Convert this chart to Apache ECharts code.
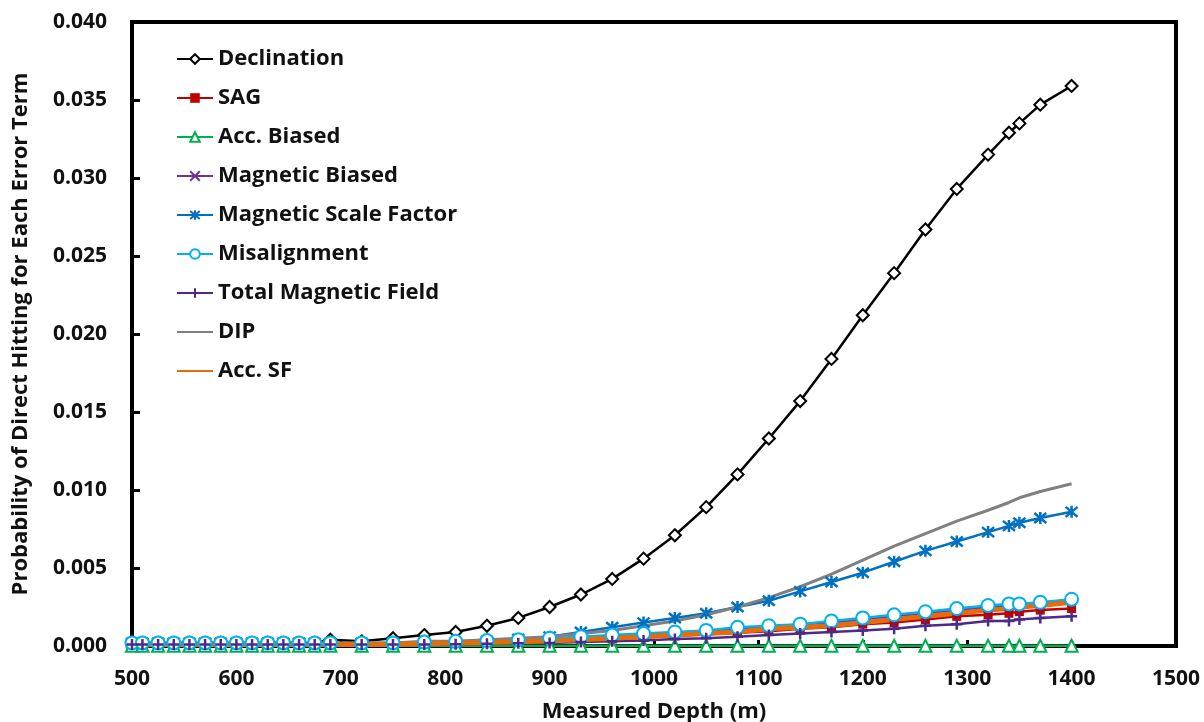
<!DOCTYPE html>
<html>
<head>
<meta charset="utf-8">
<script src="https://cdn.jsdelivr.net/npm/echarts@6/dist/echarts.min.js"></script>
<style>
  html, body { margin: 0; padding: 0; background: #fff; }
  #chart { width: 1204px; height: 722px; }
</style>
</head>
<body>
<div id="chart"></div>
<script>
// Measured depth stations (m)
const depths = [500, 510, 525, 540, 555, 570, 585, 600, 615, 630, 645, 660, 675, 690,
  720, 750, 780, 810, 840, 870, 900, 930, 960, 990, 1020, 1050, 1080, 1110, 1140,
  1170, 1200, 1230, 1260, 1290, 1320, 1340, 1350, 1370, 1400];

// Probability of direct hitting for each error term
const declination = [0.0002, 0.0002, 0.0002, 0.0002, 0.0002, 0.0002, 0.0002, 0.0002, 0.0002, 0.0002, 0.0002, 0.0002, 0.0002, 0.0004,
  0.0003, 0.0005, 0.0007, 0.0009, 0.0013, 0.0018, 0.0025, 0.0033, 0.0043, 0.0056, 0.0071, 0.0089, 0.0110, 0.0133, 0.0157,
  0.0184, 0.0212, 0.0239, 0.0267, 0.0293, 0.0315, 0.0329, 0.0335, 0.0347, 0.0359];
const sag = [0.0001, 0.0001, 0.0001, 0.0001, 0.0001, 0.0001, 0.0001, 0.0001, 0.0001, 0.0001, 0.0001, 0.0001, 0.0001, 0.0001,
  0.0001, 0.0001, 0.00012, 0.00015, 0.0002, 0.00025, 0.0003, 0.0004, 0.00045, 0.00055, 0.00065, 0.00075, 0.00085, 0.00095, 0.0011,
  0.0012, 0.0014, 0.0015, 0.0017, 0.0019, 0.0020, 0.0021, 0.0022, 0.0023, 0.0024];
const accBiased = [0.00002, 0.00002, 0.00002, 0.00002, 0.00002, 0.00002, 0.00002, 0.00002, 0.00002, 0.00002, 0.00002, 0.00002, 0.00002, 0.00002,
  0.00002, 0.00002, 0.00002, 0.00002, 0.00002, 0.00002, 0.00002, 0.00002, 0.00002, 0.00002, 0.00002, 0.00002, 0.00002, 0.00002, 0.00002,
  0.00002, 0.00002, 0.00002, 0.00002, 0.00002, 0.00002, 0.00002, 0.00002, 0.00002, 0.00002];
const magneticBiased = [0.00015, 0.00015, 0.00015, 0.00015, 0.00015, 0.00015, 0.00015, 0.00015, 0.00015, 0.00015, 0.00015, 0.00015, 0.00015, 0.00015,
  0.00015, 0.00015, 0.0002, 0.00025, 0.0003, 0.00035, 0.0004, 0.0005, 0.0006, 0.0007, 0.0008, 0.0009, 0.0011, 0.0012, 0.0013,
  0.0015, 0.0017, 0.0019, 0.0021, 0.0023, 0.0025, 0.0026, 0.0026, 0.0027, 0.0029];
const magneticScaleFactor = [0.0002, 0.0002, 0.0002, 0.0002, 0.0002, 0.0002, 0.0002, 0.0002, 0.0002, 0.0002, 0.0002, 0.0002, 0.0002, 0.0002,
  0.0002, 0.0002, 0.0002, 0.0002, 0.0003, 0.00045, 0.0006, 0.0009, 0.0012, 0.0015, 0.0018, 0.0021, 0.0025, 0.0029, 0.0035,
  0.0041, 0.0047, 0.0054, 0.0061, 0.0067, 0.0073, 0.0077, 0.0079, 0.0082, 0.0086];
const misalignment = [0.0002, 0.0002, 0.0002, 0.0002, 0.0002, 0.0002, 0.0002, 0.0002, 0.0002, 0.0002, 0.0002, 0.0002, 0.0002, 0.0002,
  0.0002, 0.0002, 0.00025, 0.0003, 0.00035, 0.0004, 0.0005, 0.0006, 0.0007, 0.0008, 0.0009, 0.0010, 0.0012, 0.0013, 0.0014,
  0.0016, 0.0018, 0.0020, 0.0022, 0.0024, 0.0026, 0.0027, 0.0027, 0.0028, 0.0030];
const totalMagneticField = [0.0001, 0.0001, 0.0001, 0.0001, 0.0001, 0.0001, 0.0001, 0.0001, 0.0001, 0.0001, 0.0001, 0.0001, 0.0001, 0.0001,
  0.0001, 0.0001, 0.0001, 0.00012, 0.00015, 0.00018, 0.0002, 0.00025, 0.0003, 0.00035, 0.00045, 0.0005, 0.0006, 0.0007, 0.0008,
  0.0009, 0.0010, 0.0011, 0.0013, 0.0014, 0.0016, 0.0016, 0.0017, 0.0018, 0.0019];
const dip = [0.0002, 0.0002, 0.0002, 0.0002, 0.0002, 0.0002, 0.0002, 0.0002, 0.0002, 0.0002, 0.0002, 0.0002, 0.0002, 0.0002,
  0.0002, 0.0002, 0.0003, 0.0003, 0.0004, 0.0005, 0.0006, 0.0008, 0.0010, 0.0013, 0.0016, 0.0020, 0.0025, 0.0031, 0.0038,
  0.0046, 0.0055, 0.0064, 0.0072, 0.0080, 0.0087, 0.0092, 0.0095, 0.0099, 0.0104];
const accSF = [0.0001, 0.0001, 0.0001, 0.0001, 0.0001, 0.0001, 0.0001, 0.0001, 0.0001, 0.0001, 0.0001, 0.0001, 0.0001, 0.0001,
  0.0001, 0.00012, 0.00015, 0.0002, 0.00022, 0.00028, 0.00032, 0.0004, 0.0005, 0.0006, 0.0007, 0.0008, 0.0009, 0.0011, 0.0012,
  0.0013, 0.0015, 0.0017, 0.0019, 0.0021, 0.0023, 0.0024, 0.0025, 0.0026, 0.0028];

const xTicks = { min: 500, max: 1500, step: 100 };
const yTicks = { min: 0, max: 0.04, step: 0.005 };

const FONT = '"Open Sans"';

// Marker shapes drawn as stroked paths
const xMark = 'path://M0,0L10,10M10,0L0,10';
const starMark = 'path://M0,0L10,10M10,0L0,10M5,-1L5,11';
const plusMark = 'path://M5,0L5,10M0,5L10,5';

function pairs(values) {
  return depths.map((d, i) => [d, values[i]]);
}

function lineSeries(name, values, color, opts) {
  return Object.assign({
    name: name,
    type: 'line',
    data: pairs(values),
    smooth: false,
    color: color,
    lineStyle: { color: color, width: 2.5 },
    itemStyle: { color: color },
    emphasis: { disabled: true },
    animation: false
  }, opts || {});
}

const series = [
  lineSeries('Declination', declination, '#000000', {
    symbol: 'emptyDiamond', symbolSize: 12,
    itemStyle: { color: '#000000', borderWidth: 2.5 }
  }),
  lineSeries('SAG', sag, '#C00000', {
    symbol: 'rect', symbolSize: 9
  }),
  lineSeries('Acc. Biased', accBiased, '#00B050', {
    symbol: 'emptyTriangle', symbolSize: 12,
    itemStyle: { color: '#00B050', borderWidth: 2 }
  }),
  lineSeries('Magnetic Biased', magneticBiased, '#7030A0', {
    symbol: xMark, symbolSize: 9,
    itemStyle: { color: '#7030A0', borderColor: '#7030A0', borderWidth: 1.5 }
  }),
  lineSeries('Magnetic Scale Factor', magneticScaleFactor, '#0070C0', {
    symbol: starMark, symbolSize: 12,
    itemStyle: { color: '#0070C0', borderColor: '#0070C0', borderWidth: 2.5 }
  }),
  lineSeries('Misalignment', misalignment, '#00B0F0', {
    symbol: 'emptyCircle', symbolSize: 13,
    itemStyle: { color: '#00B0F0', borderWidth: 2.5 }
  }),
  lineSeries('Total Magnetic Field', totalMagneticField, '#4B2A8A', {
    symbol: plusMark, symbolSize: 11,
    itemStyle: { color: '#4B2A8A', borderColor: '#4B2A8A', borderWidth: 2.5 }
  }),
  lineSeries('DIP', dip, '#808080', {
    symbol: 'none',
    lineStyle: { color: '#808080', width: 3 }
  }),
  lineSeries('Acc. SF', accSF, '#E46C0A', {
    symbol: 'none',
    lineStyle: { color: '#E46C0A', width: 5 }
  })
];

// Series drawn without markers show a plain line in the legend
const legendItems = series.map(s => s.symbol === 'none'
  ? { name: s.name, itemStyle: { opacity: 0 } }
  : { name: s.name });

const chart = echarts.init(document.getElementById('chart'), null, { renderer: 'canvas' });
chart.setOption({
  backgroundColor: '#ffffff',
  animation: false,
  textStyle: { fontFamily: FONT },
  grid: {
    left: 132, right: 28, top: 22, bottom: 76,
    show: true, borderColor: '#000000', borderWidth: 4,
    backgroundColor: 'transparent',
    containLabel: false,
    outerBoundsMode: 'none'
  },
  legend: {
    orient: 'vertical',
    left: 176, top: 48, padding: 0,
    itemWidth: 36, itemHeight: 12, itemGap: 17,
    textStyle: { fontFamily: FONT, fontWeight: 'bold', fontSize: 22, color: '#111', lineHeight: 22 },
    data: legendItems
  },
  xAxis: {
    type: 'value',
    min: xTicks.min, max: xTicks.max, interval: xTicks.step,
    name: 'Measured Depth (m)',
    nameLocation: 'middle', nameGap: 55,
    nameTextStyle: { fontFamily: FONT, fontWeight: 'bold', fontSize: 22, color: '#111' },
    axisLine: { show: false },
    axisTick: { show: true, inside: true, length: 6, lineStyle: { color: '#000', width: 3 } },
    splitLine: { show: false },
    axisLabel: {
      fontFamily: FONT, fontWeight: 'bold', fontSize: 21, color: '#111', margin: 23,
      formatter: v => String(v)
    }
  },
  yAxis: {
    type: 'value',
    min: yTicks.min, max: yTicks.max, interval: yTicks.step,
    name: 'Probability of Direct Hitting for Each Error Term',
    nameLocation: 'middle', nameGap: 100,
    nameTextStyle: { fontFamily: FONT, fontWeight: 'bold', fontSize: 22, color: '#111' },
    axisLine: { show: false },
    axisTick: { show: true, inside: true, length: 8, lineStyle: { color: '#000', width: 3 } },
    splitLine: { show: false },
    axisLabel: {
      fontFamily: FONT, fontWeight: 'bold', fontSize: 21, color: '#111', margin: 25,
      formatter: v => v.toFixed(3)
    }
  },
  series: series
});
</script>
</body>
</html>
